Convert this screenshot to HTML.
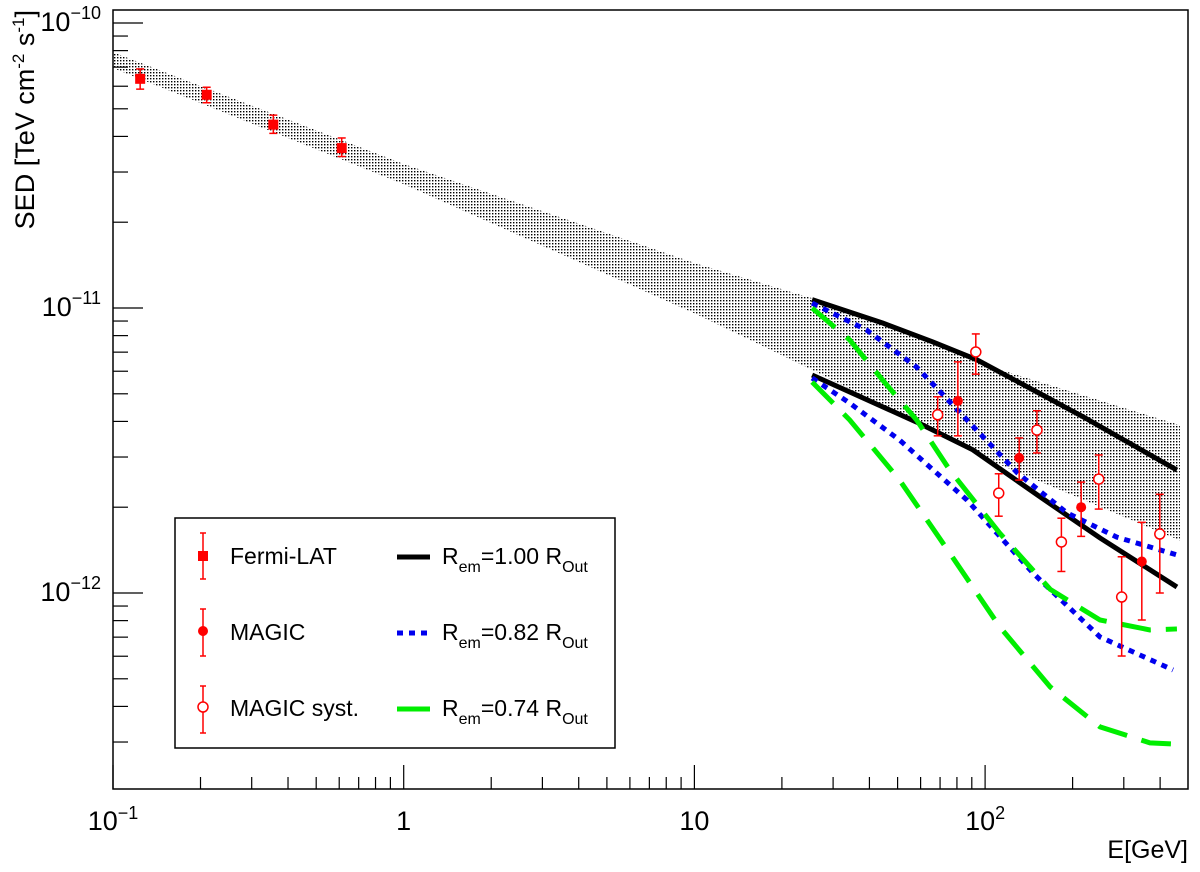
<!DOCTYPE html>
<html><head><meta charset="utf-8"><style>
body{margin:0;background:#fff;}
svg{font-family:"Liberation Sans",sans-serif;}
</style></head><body>
<svg id="c" width="1200" height="867" xmlns="http://www.w3.org/2000/svg">
<defs><pattern id="dots" width="3" height="3" patternUnits="userSpaceOnUse"><rect width="3" height="3" fill="#fff"/><rect width="1.4" height="1.4" fill="#000"/></pattern></defs>
<g id="plot"></g>
</svg>
<script>
const fermiE=[0.124,0.21,0.356,0.612];
const fermiV=[6.37e-11,5.6e-11,4.4e-11,3.64e-11];
const fermiHi=[6.9e-11,5.95e-11,4.75e-11,3.95e-11];
const fermiLo=[5.86e-11,5.25e-11,4.1e-11,3.4e-11];
const magicE=[80.6,131,214,346];
const magicV=[4.72e-12,2.98e-12,2.0e-12,1.29e-12];
const magicHi=[6.47e-12,3.5e-12,2.45e-12,1.77e-12];
const magicLo=[3.56e-12,2.49e-12,1.58e-12,8.04e-13];
const systE=[68.7,92.9,111.4,150.8,183,246,295,399];
const systV=[4.22e-12,7.01e-12,2.24e-12,3.73e-12,1.51e-12,2.51e-12,9.68e-13,1.61e-12];
const systHi=[4.88e-12,8.11e-12,2.62e-12,4.36e-12,1.83e-12,3.05e-12,1.34e-12,2.22e-12];
const systLo=[3.56e-12,5.86e-12,1.86e-12,3.10e-12,1.19e-12,1.97e-12,6.01e-13,1.0e-12];
const bandE=[0.1,1,10.2,25.6,103,468];
const bandHi=[7.9e-11,3.2e-11,1.43e-11,1.08e-11,6.25e-12,3.88e-12];
const bandLo=[6.95e-11,2.72e-11,9.5e-12,6.05e-12,2.93e-12,1.53e-12];
const blkUE=[25.4,44.4,66.1,93.7,146.7,217.3,457];
const blkUV=[1.07e-11,8.86e-12,7.60e-12,6.58e-12,5.15e-12,4.15e-12,2.70e-12];
const blkLE=[25.4,58.1,90.7,155,248.5,457];
const blkLV=[5.82e-12,3.98e-12,3.18e-12,2.17e-12,1.56e-12,1.05e-12];
const bluUE=[25.4,39.1,58.1,86.6,129,191.3,284,457];
const bluUV=[1.04e-11,8.37e-12,6.21e-12,4.05e-12,2.64e-12,1.91e-12,1.57e-12,1.36e-12];
const bluLE=[25.4,34.2,50.8,86.6,146.7,248.5,443];
const bluLV=[5.68e-12,4.64e-12,3.44e-12,2.12e-12,1.17e-12,7.01e-13,5.37e-13];
const grnUE=[25.4,34.2,44.4,58.1,75.6,112.4,167.5,248.5,369,457];
const grnUV=[1.0e-11,7.73e-12,5.59e-12,4.05e-12,2.70e-12,1.62e-12,1.03e-12,8.04e-13,7.42e-13,7.48e-13];
const grnLE=[25.4,34.2,50.8,75.6,112.4,167.5,248.5,369,457];
const grnLV=[5.5e-12,4.05e-12,2.49e-12,1.38e-12,7.60e-13,4.68e-13,3.39e-13,2.98e-13,2.95e-13];
const xTickLabels=["10","1","10","10"];
const yTickLabels=["10","10","10"];

const L=113,R=1188,T=10,B=789;
const X=e=>L+290.7*(Math.log10(e)+1);
const Y=v=>23-285*(Math.log10(v)+10);
const NS="http://www.w3.org/2000/svg";
const g=document.getElementById('plot');
function mk(t,a,p){const el=document.createElementNS(NS,t);for(const k in a)el.setAttribute(k,a[k]);(p||g).appendChild(el);return el;}
const clip=mk('clipPath',{id:'cl'});mk('rect',{x:L,y:T,width:R-L,height:B-T},clip);
let d='M'+bandE.map((e,i)=>X(e)+','+Y(bandHi[i])).join('L');
for(let i=bandE.length-1;i>=0;i--)d+='L'+X(bandE[i])+','+Y(bandLo[i]);
let el=mk('path',{d:d+'Z',fill:'url(#dots)','clip-path':'url(#cl)'});


function line(E,V,col,dash,name){const e=mk('path',{d:'M'+E.map((x,i)=>X(x)+','+Y(V[i])).join('L'),fill:'none',stroke:col,'stroke-width':5,'stroke-dasharray':dash,'clip-path':'url(#cl)'});

}
line(blkUE,blkUV,'#000','none','model-1.00-upper');
line(blkLE,blkLV,'#000','none','model-1.00-lower');
line(bluUE,bluUV,'#0000ee','6 6','model-0.82-upper');
line(bluLE,bluLV,'#0000ee','6 6','model-0.82-lower');
line(grnUE,grnUV,'#00ee00','30 15','model-0.74-upper');
line(grnLE,grnLV,'#00ee00','30 15','model-0.74-lower');
function err(x,y1,y2){mk('line',{x1:x,x2:x,y1:y1,y2:y2,stroke:'red','stroke-width':1.5});mk('line',{x1:x-4,x2:x+4,y1:y1,y2:y1,stroke:'red','stroke-width':1.5});mk('line',{x1:x-4,x2:x+4,y1:y2,y2:y2,stroke:'red','stroke-width':1.5});}
fermiE.forEach((e,i)=>{err(X(e),Y(fermiHi[i]),Y(fermiLo[i]));const m=mk('rect',{x:X(e)-5,y:Y(fermiV[i])-5,width:10,height:10,fill:'red'});

});
magicE.forEach((e,i)=>{err(X(e),Y(magicHi[i]),Y(magicLo[i]));const m=mk('circle',{cx:X(e),cy:Y(magicV[i]),r:5,fill:'red'});

});
systE.forEach((e,i)=>{err(X(e),Y(systHi[i]),Y(systLo[i]));const m=mk('circle',{cx:X(e),cy:Y(systV[i]),r:5,fill:'#fff',stroke:'red','stroke-width':1.5});

});
el=mk('rect',{x:L,y:T,width:R-L,height:B-T,fill:'none',stroke:'#000','stroke-width':1.5});


for(let p=-1;p<=2;p++)for(let m=1;m<10;m++){const e=m*Math.pow(10,p);const x=X(e);if(x>R)break;mk('line',{x1:x,x2:x,y1:B,y2:B-(m==1?24:12),stroke:'#000','stroke-width':1.2});}
const xl=[[0.1,'10','−1'],[1,'1',''],[10,'10',''],[100,'10','2']];
xl.forEach((t,i)=>{const tx=mk('text',{x:X(t[0]),y:830,'font-size':27,'text-anchor':'middle'});tx.textContent=xTickLabels[i];if(t[2]){const s=mk('tspan',{dy:-11,'font-size':18},tx);s.textContent=t[2];}

});
for(let p=-13;p<=-10;p++)for(let m=1;m<10;m++){const v=m*Math.pow(10,p);const y=Y(v);if(y<T||y>B)continue;mk('line',{x1:L,x2:L+(m==1?30:15),y1:y,y2:y,stroke:'#000','stroke-width':1.2});}
[[-10,'−10'],[-11,'−11'],[-12,'−12']].forEach((t,i)=>{const tx=mk('text',{x:101,y:Y(Math.pow(10,t[0]))+8,'font-size':27,'text-anchor':'end'});tx.textContent=yTickLabels[i];const s=mk('tspan',{dy:-12,'font-size':18},tx);s.textContent=t[1];

});
</script>
<svg style="position:absolute;left:0;top:0" width="1200" height="867" xmlns="http://www.w3.org/2000/svg" font-family="Liberation Sans, sans-serif">
<text x="1188" y="858" font-size="25" text-anchor="end">E[GeV]</text>
<text transform="translate(34,10) rotate(-90)" font-size="27" text-anchor="end">SED [TeV cm<tspan dy="-10" font-size="17">-2</tspan><tspan dy="10"> s</tspan><tspan dy="-10" font-size="17">-1</tspan><tspan dy="10">]</tspan></text>
<g>
<rect x="175" y="518" width="440" height="230" fill="#fff" stroke="#000" stroke-width="1.5"/>
<g stroke="red" stroke-width="1.5"><line x1="203" x2="203" y1="533" y2="579"/><line x1="200" x2="206" y1="533" y2="533"/><line x1="200" x2="206" y1="579" y2="579"/>
<line x1="203" x2="203" y1="609" y2="656"/><line x1="200" x2="206" y1="609" y2="609"/><line x1="200" x2="206" y1="656" y2="656"/>
<line x1="203" x2="203" y1="686" y2="733"/><line x1="200" x2="206" y1="686" y2="686"/><line x1="200" x2="206" y1="733" y2="733"/></g>
<rect x="198" y="551" width="10" height="10" fill="red"/>
<circle cx="203" cy="631" r="5" fill="red"/>
<circle cx="203" cy="707" r="5" fill="#fff" stroke="red" stroke-width="1.5"/>
<text x="230" y="564" font-size="23">Fermi-LAT</text>
<text x="230" y="640" font-size="23">MAGIC</text>
<text x="230" y="716" font-size="23">MAGIC syst.</text>
<line x1="397" x2="430" y1="557" y2="557" stroke="#000" stroke-width="5"/>
<line x1="397" x2="430" y1="633" y2="633" stroke="#0000ee" stroke-width="5" stroke-dasharray="6 6"/>
<line x1="397" x2="430" y1="709" y2="709" stroke="#00ee00" stroke-width="5"/>
<text x="442" y="564" font-size="23">R<tspan dy="8" font-size="16">em</tspan><tspan dy="-8">=1.00 R</tspan><tspan dy="8" font-size="16">Out</tspan></text>
<text x="442" y="640" font-size="23">R<tspan dy="8" font-size="16">em</tspan><tspan dy="-8">=0.82 R</tspan><tspan dy="8" font-size="16">Out</tspan></text>
<text x="442" y="716" font-size="23">R<tspan dy="8" font-size="16">em</tspan><tspan dy="-8">=0.74 R</tspan><tspan dy="8" font-size="16">Out</tspan></text>
</g>
</svg>
</body></html>
